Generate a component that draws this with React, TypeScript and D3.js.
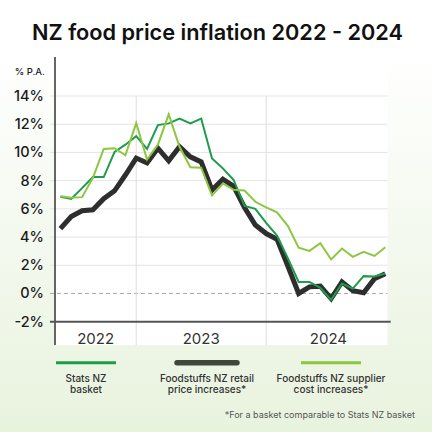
import React from "react";
import * as d3 from "d3";

const months: string[] = [
  "2022-05","2022-06","2022-07","2022-08","2022-09","2022-10","2022-11","2022-12",
  "2023-01","2023-02","2023-03","2023-04","2023-05","2023-06","2023-07","2023-08",
  "2023-09","2023-10","2023-11","2023-12","2024-01","2024-02","2024-03","2024-04",
  "2024-05","2024-06","2024-07","2024-08","2024-09","2024-10","2024-11",
];

const statsNZ: number[] = [
  6.85, 6.7, 7.47, 8.25, 8.25, 10.04, 10.55, 11.15, 10.25, 11.94, 12.06, 12.4, 12.06, 12.4, 9.57, 8.87,
  8.04, 6.2, 6.0, 5.0, 4.1, 2.5, 0.82, 0.82, 0.4, -0.45, 0.71, 0.35, 1.23, 1.2, 1.42,
];

const retail: number[] = [
  4.6, 5.45, 5.87, 5.93, 6.72, 7.28, 8.4, 9.6, 9.25, 10.3, 9.4, 10.4, 9.69, 9.33, 7.33, 8.1,
  7.6, 6.1, 4.85, 4.25, 3.85, 1.95, 0.0, 0.47, 0.52, -0.36, 0.82, 0.2, 0.05, 1.05, 1.4,
];

const supplier: number[] = [
  6.9, 6.78, 6.83, 8.2, 10.25, 10.3, 9.8, 12.08, 9.5, 10.55, 12.7, 10.4, 8.95, 8.92, 6.95, 7.8,
  7.35, 7.3, 6.5, 6.1, 5.75, 4.8, 3.25, 3.02, 3.57, 2.41, 3.19, 2.6, 2.95, 2.66, 3.28,
];

const yTicks: number[] = [-2, 0, 2, 4, 6, 8, 10, 12, 14];
const yearLabels: string[] = ["2022", "2023", "2024"];
const yearBreaks: string[] = ["2022-12", "2023-12"];

const legendItems = [
  { lines: ["Stats NZ", "basket"], color: "#1e9b4b", width: 3, cx: 86 },
  { lines: ["Foodstuffs NZ retail", "price increases*"], color: "#3f473b", width: 5.5, cx: 207 },
  { lines: ["Foodstuffs NZ supplier", "cost increases*"], color: "#8dc641", width: 3, cx: 331 },
];

const FONT = "Inter, 'Noto Sans', sans-serif";

export default function App() {
  const W = 432, H = 432;
  const left = 55, right = 390.7, plotRight = 387.5;
  const x = d3.scalePoint<string>().domain(months).range([left, right]).padding(0.5);
  const y = d3.scaleLinear().domain([-2, 14]).range([321.7, 96]);

  const line = d3
    .line<number>()
    .x((_, i) => x(months[i]) as number)
    .y((d) => y(d));

  const breaks = yearBreaks.map((m) => x(m) as number);
  const bounds = [left, ...breaks, right];

  return (
    <svg
      width={W}
      height={H}
      viewBox={`0 0 ${W} ${H}`}
      style={{ position: "absolute", left: 0, top: 0, display: "block" }}
    >
      <defs>
        <linearGradient id="bg" x1="0" y1="0" x2="0" y2="1">
          <stop offset="0.12" stopColor="#ffffff" />
          <stop offset="1" stopColor="#e8f3de" />
        </linearGradient>
      </defs>
      <rect x={0} y={0} width={W} height={H} fill="url(#bg)" />
      <rect x={left} y={57} width={plotRight - left} height={345 - 57} fill="#ffffff" />

      <text
        x={217.5}
        y={40}
        textAnchor="middle"
        fontFamily={FONT}
        fontWeight={600}
        fontSize={22}
        fill="#111"
        textLength={371}
        lengthAdjust="spacingAndGlyphs"
      >
        NZ food price inflation 2022 - 2024
      </text>

      <text x={45} y={75} textAnchor="end" fontFamily={FONT} fontSize={9.5} fontWeight={500} fill="#222">
        % P.A.
      </text>

      {/* horizontal gridlines */}
      {yTicks.filter((t) => t !== 0 && t !== -2).map((t) => (
        <line key={t} x1={50} x2={plotRight} y1={y(t)} y2={y(t)} stroke="#e4e4e4" strokeWidth={1} />
      ))}
      <line x1={50} x2={plotRight} y1={y(0)} y2={y(0)} stroke="#aaaaaa" strokeWidth={1} strokeDasharray="4 3" />

      {/* year separators */}
      {breaks.map((b, i) => (
        <line key={i} x1={b} x2={b} y1={y(14)} y2={345} stroke="#dddddd" strokeWidth={1} />
      ))}

      {/* y tick labels */}
      {yTicks.map((t) => (
        <text
          key={t}
          x={44}
          y={y(t) + 5}
          textAnchor="end"
          fontFamily={FONT}
          fontSize={14.5}
          fontWeight={500}
          fill="#1a1a1a"
        >
          {`${t}%`}
        </text>
      ))}

      {/* axes */}
      <line x1={left} x2={left} y1={57} y2={345} stroke="#333" strokeWidth={1.5} />
      <line x1={50} x2={right} y1={y(-2)} y2={y(-2)} stroke="#555" strokeWidth={2} />

      {/* year labels */}
      {yearLabels.map((lab, i) => (
        <text
          key={lab}
          x={(bounds[i] + bounds[i + 1]) / 2}
          y={343.5}
          textAnchor="middle"
          fontFamily={FONT}
          fontSize={15}
          fill="#333"
        >
          {lab}
        </text>
      ))}

      {/* series */}
      <path d={line(retail) || ""} fill="none" stroke="#2e2e2e" strokeWidth={5} strokeLinejoin="miter" />
      <path d={line(statsNZ) || ""} fill="none" stroke="#1e9b4b" strokeWidth={2} strokeLinejoin="miter" />
      <path d={line(supplier) || ""} fill="none" stroke="#8dc641" strokeWidth={2} strokeLinejoin="miter" />

      {/* legend */}
      {legendItems.map((it) => (
        <g key={it.cx}>
          <line
            x1={it.cx - 30}
            x2={it.cx + 30}
            y1={362.7}
            y2={362.7}
            stroke={it.color}
            strokeWidth={it.width}
            strokeLinecap={it.width > 4 ? "round" : "butt"}
          />
          {it.lines.map((l, j) => (
            <text
              key={j}
              x={it.cx}
              y={382 + j * 11}
              textAnchor="middle"
              fontFamily={FONT}
              fontSize={10}
              fontWeight={500}
              fill="#333"
            >
              {l}
            </text>
          ))}
        </g>
      ))}

      <text x={415} y={418} textAnchor="end" fontFamily={FONT} fontSize={9} fill="#555">
        *For a basket comparable to Stats NZ basket
      </text>
    </svg>
  );
}
